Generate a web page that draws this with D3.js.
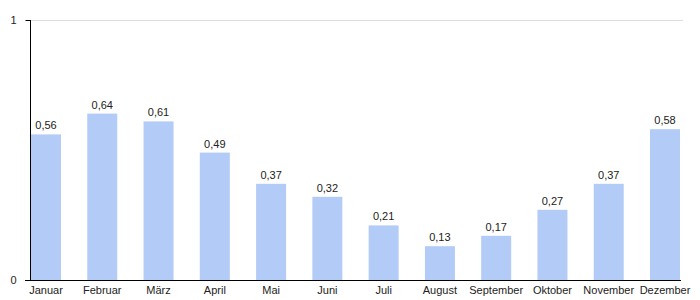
<!DOCTYPE html>
<html>
<head>
<meta charset="utf-8">
<script src="https://cdn.jsdelivr.net/npm/d3@7"></script>
<style>
  body { margin: 0; background: #fff; }
  svg { font-family: "Liberation Sans", Arial, sans-serif; }
</style>
</head>
<body>
<div id="chart"></div>
<script>
var months = ["Januar", "Februar", "März", "April", "Mai", "Juni", "Juli", "August", "September", "Oktober", "November", "Dezember"];
var values = [0.56, 0.64, 0.61, 0.49, 0.37, 0.32, 0.21, 0.13, 0.17, 0.27, 0.37, 0.58];
var yTicks = [0, 1];

var width = 700;
var height = 300;

var svg = d3.select("#chart")
            .append("svg")
            .attr("width", width)
            .attr("height", height)
            .style("font-size", "11px");

var x = d3.scaleBand()
          .domain(months)
          .range([31, 680])
          .paddingInner(0.467)
          .paddingOuter(0);

var y = d3.scaleLinear()
          .domain([0, 1])
          .range([280, 20]);

// obere Rasterlinie
svg.append("line")
   .attr("x1", 30)
   .attr("x2", 683)
   .attr("y1", y(1) + 0.5)
   .attr("y2", y(1) + 0.5)
   .attr("stroke", "#dddddd");

// Balken
svg.append("g")
   .selectAll("rect")
   .data(values)
   .enter()
   .append("rect")
   .attr("x", function(d, i) { return x(months[i]); })
   .attr("y", function(d) { return y(d); })
   .attr("width", x.bandwidth())
   .attr("height", function(d) { return y(0) - y(d); })
   .attr("fill", "#b3cbf7");

// Werte
svg.append("g")
   .selectAll("text")
   .data(values)
   .enter()
   .append("text")
   .attr("x", function(d, i) { return x(months[i]) + x.bandwidth() / 2; })
   .attr("y", function(d) { return y(d) - 5; })
   .attr("text-anchor", "middle")
   .attr("fill", "#222")
   .text(function(d) { return d3.format(".2f")(d).replace(".", ","); });

// x-Achse
var xAxis = svg.append("g")
               .attr("transform", "translate(0," + y(0) + ")")
               .call(d3.axisBottom(x).tickSize(0).tickPadding(6));
xAxis.select(".domain").remove();
xAxis.selectAll("text").attr("fill", "#222").style("font-size", "11px").style("font-family", "Liberation Sans, Arial, sans-serif");

svg.append("line")
   .attr("x1", 25)
   .attr("x2", 681)
   .attr("y1", y(0) + 0.5)
   .attr("y2", y(0) + 0.5)
   .attr("stroke", "#000");

// y-Achse
var yAxis = svg.append("g")
               .attr("transform", "translate(30.5,0)")
               .call(d3.axisLeft(y).tickValues(yTicks).tickSize(5).tickPadding(9).tickFormat(d3.format("d")));
yAxis.select(".domain").attr("d", "M0," + y(1) + "V" + y(0));
yAxis.selectAll("text").attr("fill", "#222").style("font-size", "11px").style("font-family", "Liberation Sans, Arial, sans-serif");
</script>
</body>
</html>
